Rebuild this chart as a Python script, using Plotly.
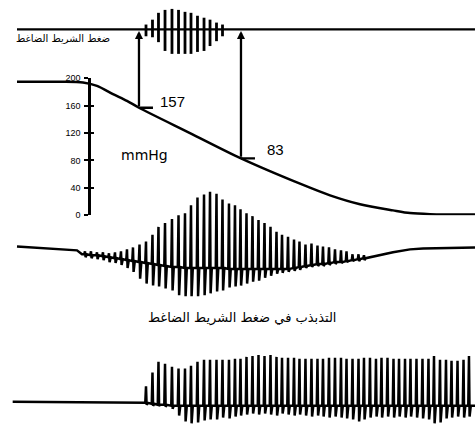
import plotly.graph_objects as go

# ---------------- data ----------------
# heart beats (s) shared by the three traces
beat_t = [11.33, 12.33, 13.33, 14.33, 15.33, 16.33, 17.33, 18.33, 19.33, 20.42,
          21.5, 22.58, 23.58, 24.67, 25.83, 26.92, 28.0, 29.0, 30.08, 31.17,
          32.17, 33.25, 34.25, 35.33, 36.33, 37.25, 38.25, 39.25, 40.25, 41.25,
          42.25, 43.25, 44.17, 45.17, 46.17, 47.08, 48.08, 49.08, 50.08, 51.0,
          52.0, 53.0, 54.0, 54.92, 55.92, 56.92, 57.83, 58.83, 59.83, 60.75,
          61.75, 62.75, 63.67, 64.67, 65.58, 66.58, 67.58, 68.58, 69.5, 70.5,
          71.5, 72.42, 73.42, 74.42, 75.33]

# cuff pressure (mmHg)
cuff_t = [0, 7.17, 11.0, 13.33, 16.0, 18.33, 20.33, 28.83, 37.33, 47.17, 52.17, 57.17, 62.67, 65.5, 68.83, 76.33]
cuff_p = [195, 195, 194, 189, 177, 167, 157, 120, 83, 46, 29, 16, 7, 3, 1.5, 1]
sys_t, sys_p = 20.33, 157
dia_t, dia_p = 37.33, 83
p_ticks = [0, 40, 80, 120, 160, 200]
record_t = [0.0, 76.33]

# top burst (beats 10..22)
burst_first = 10
burst_up = [0.5, 1.0, 1.7, 2.0, 2.1, 2.0, 1.8, 1.7, 1.4, 1.2, 1.0, 0.7, 0.5]
burst_down = [0.7, 0.8, 1.3, 2.2, 2.5, 2.5, 2.5, 2.5, 2.3, 2.2, 1.7, 1.2, 0.7]

# oscillation in cuff pressure (beats 0..46)
osc_base = [-0.5, -0.6, -0.6, -0.7, -0.8, -0.9, -1.0, -1.1, -1.2, -1.3,
            -1.4, -1.5, -1.6, -1.7, -1.8, -1.8, -1.9, -1.9, -1.9, -1.9,
            -1.9, -1.9, -1.9, -2.0, -2.0, -2.0, -2.0, -2.0, -2.0, -2.0,
            -2.0, -2.0, -2.0, -2.0, -1.9, -1.8, -1.7, -1.6, -1.5, -1.5,
            -1.4, -1.3, -1.3, -1.2, -1.1, -1.0, -0.9]
osc_top = [-0.2, -0.2, -0.3, -0.3, -0.4, -0.3, -0.2, 0.0, 0.2, 0.5,
           0.8, 1.5, 2.3, 2.7, 3.1, 3.5, 3.7, 4.5, 5.3, 5.6,
           5.9, 5.7, 5.1, 4.7, 4.5, 4.1, 3.7, 3.4, 3.0, 2.7,
           2.3, 1.8, 1.5, 1.3, 1.0, 0.8, 0.5, 0.6, 0.4, 0.3,
           0.2, 0.0, -0.1, -0.2, -0.5, -0.5, -0.6]
osc_bot = [-0.8, -0.9, -1.0, -1.1, -1.3, -1.4, -1.6, -1.9, -2.3, -3.0,
           -3.5, -3.7, -3.8, -4.0, -4.2, -4.7, -4.8, -4.8, -4.8, -4.7,
           -4.5, -4.3, -4.2, -3.9, -3.8, -3.7, -3.5, -3.3, -3.2, -2.9,
           -2.7, -2.5, -2.4, -2.3, -2.2, -2.1, -1.9, -1.8, -1.7, -1.7,
           -1.6, -1.5, -1.4, -1.3, -1.2, -1.2, -1.1]
osc_pre_t = [0.0, 5.5, 10.0, 10.83]
osc_pre_v = [0.3, 0.1, -0.1, -0.5]
osc_post_t = [58.83, 60.5, 62.67, 65.5, 67.67, 76.33]
osc_post_v = [-0.8, -0.55, -0.3, 0.0, 0.1, 0.2]

# distal pulse (beats 10..64)
pulse_first = 10
pulse_start_t = -0.72
pulse_top = [1.6, 3.0, 4.1, 3.9, 3.6, 3.4, 3.4, 3.7, 4.1, 4.3,
             4.3, 4.3, 4.3, 4.3, 4.4, 4.4, 4.6, 4.7, 4.8, 4.7,
             4.8, 4.6, 4.5, 4.5, 4.5, 4.4, 4.4, 4.4, 4.4, 4.4,
             4.5, 4.5, 4.5, 4.4, 4.4, 4.4, 4.5, 4.5, 4.4, 4.5,
             4.5, 4.4, 4.4, 4.4, 4.4, 4.4, 4.4, 4.4, 4.7, 4.3,
             4.3, 4.2, 4.2, 4.3, 4.7]
pulse_bot = [-0.3, -0.4, -0.4, -0.5, -0.7, -1.4, -2.0, -2.2, -2.1, -1.9,
             -1.8, -1.8, -1.6, -1.7, -1.5, -1.4, -1.3, -1.2, -1.3, -1.2,
             -1.3, -1.4, -1.2, -1.3, -1.4, -1.3, -1.4, -1.5, -1.4, -1.5,
             -1.6, -1.5, -1.6, -1.7, -1.8, -2.0, -1.8, -1.6, -1.5, -1.6,
             -1.5, -1.6, -1.5, -1.6, -1.5, -1.6, -1.7, -1.8, -2.2, -2.1,
             -1.7, -1.6, -1.5, -1.6, -1.5]
pulse_base = [-0.1, -0.2, -0.3, -0.3, -0.4, -0.4, -0.4, -0.4, -0.4, -0.4,
              -0.4, -0.4, -0.4, -0.4, -0.4, -0.4, -0.4, -0.4, -0.4, -0.4,
              -0.4, -0.4, -0.4, -0.4, -0.4, -0.4, -0.4, -0.4, -0.4, -0.4,
              -0.4, -0.4, -0.4, -0.4, -0.4, -0.4, -0.4, -0.4, -0.4, -0.4,
              -0.4, -0.4, -0.4, -0.4, -0.4, -0.4, -0.4, -0.4, -0.4, -0.4,
              -0.4, -0.4, -0.4, -0.4, -0.4]

top_label = "ضغط الشريط الضاغط"
mid_label = "التذبذب في ضغط الشريط الضاغط"
unit_label = "mmHg"

# ---------------- layout geometry ----------------
W, H = 475, 444
X0_PX, PX_PER_S = 17, 6.0
P_ZERO_PX, P_TOP_PX = 215, 75
AXIS_PX = 89


def span(zero_px, px_per_unit):
    return [(zero_px - H) / px_per_unit, zero_px / px_per_unit]


x_range = [-X0_PX / PX_PER_S, (W - X0_PX) / PX_PER_S]
p_dom = [1 - P_ZERO_PX / H, 1 - P_TOP_PX / H]
p_range = [0, 200]
r_osc = span(250, 10)
r_pulse = span(406, 10)
r_top = span(25, 10)


def p_to_top(p):
    frac = p_dom[0] + (p - p_range[0]) / (p_range[1] - p_range[0]) * (p_dom[1] - p_dom[0])
    return r_top[0] + frac * (r_top[1] - r_top[0])


def wave(times, base, top, bot):
    xs, ys = [], []
    for t, b, u, d in zip(times, base, top, bot):
        xs += [t - 0.12, t, t + 0.1, t + 0.3]
        ys += [b, u, d, b]
    return xs, ys


K = dict(color="black")
fig = go.Figure()

# top line and burst
fig.add_trace(go.Scatter(x=record_t, y=[0, 0], mode="lines", line=dict(width=2.3, **K),
                         xaxis="x", yaxis="y4", hoverinfo="skip"))
bx, by = [], []
for i, (u, d) in enumerate(zip(burst_up, burst_down)):
    t = beat_t[burst_first + i]
    bx += [t, t, None]
    by += [-d, u, None]
fig.add_trace(go.Scatter(x=bx, y=by, mode="lines", line=dict(width=2.8, **K),
                         xaxis="x", yaxis="y4", hoverinfo="skip"))

# cuff pressure curve
fig.add_trace(go.Scatter(x=cuff_t, y=cuff_p, mode="lines",
                         line=dict(width=2.5, shape="spline", smoothing=0.8, **K),
                         xaxis="x", yaxis="y", hoverinfo="skip"))
tick_len_s = 14 / PX_PER_S
fig.add_trace(go.Scatter(x=[sys_t, sys_t + tick_len_s, None, dia_t, dia_t + tick_len_s],
                         y=[sys_p, sys_p, None, dia_p, dia_p], mode="lines",
                         line=dict(width=2.3, **K), xaxis="x", yaxis="y", hoverinfo="skip"))
fig.add_trace(go.Scatter(x=[None], y=[None], xaxis="x", yaxis="y5", hoverinfo="skip"))

# oscillation trace
n = len(osc_top)
wx, wy = wave(beat_t[:n], osc_base, osc_top, osc_bot)
fig.add_trace(go.Scatter(x=osc_pre_t + wx + osc_post_t, y=osc_pre_v + wy + osc_post_v,
                         mode="lines", line=dict(width=2.5, **K),
                         xaxis="x", yaxis="y2", hoverinfo="skip"))

# pulse trace
m = len(pulse_top)
px_, py_ = wave(beat_t[pulse_first:pulse_first + m], pulse_base, pulse_top, pulse_bot)
fig.add_trace(go.Scatter(x=[pulse_start_t] + px_ + [record_t[1]],
                         y=[0] + py_ + [pulse_base[-1]],
                         mode="lines", line=dict(width=2.5, **K),
                         xaxis="x", yaxis="y3", hoverinfo="skip"))

ann = []
for t, p in [(sys_t, sys_p), (dia_t, dia_p)]:
    ann.append(dict(x=t, y=-0.15, xref="x", yref="y4", ax=t, ay=p_to_top(p), axref="x", ayref="y4",
                    showarrow=True, arrowhead=2, arrowsize=0.7, arrowwidth=2.3, arrowcolor="black",
                    text="", standoff=0, startstandoff=0))
num_font = dict(family="Liberation Sans Narrow, Liberation Sans, Arial", size=15, color="black")
ann.append(dict(x=sys_t, y=sys_p, xref="x", yref="y", text=str(sys_p), showarrow=False,
                xanchor="left", yanchor="middle", xshift=19, yshift=6, font=num_font))
ann.append(dict(x=dia_t, y=dia_p, xref="x", yref="y", text=str(dia_p), showarrow=False,
                xanchor="left", yanchor="middle", xshift=24, yshift=9, font=num_font))
ann.append(dict(x=21.3, y=88, xref="x", yref="y", text=unit_label, showarrow=False,
                xanchor="center", yanchor="middle",
                font=dict(family="DejaVu Sans", size=14, color="black")))
ann.append(dict(x=112 / W, y=1 - 34 / H, xref="paper", yref="paper", text=top_label, showarrow=False,
                xanchor="right", yanchor="middle",
                font=dict(family="DejaVu Sans", size=10, color="black")))
ann.append(dict(x=242 / W, y=1 - 320 / H, xref="paper", yref="paper", text=mid_label, showarrow=False,
                xanchor="center", yanchor="middle",
                font=dict(family="DejaVu Sans", size=13, color="black")))

hidden = dict(visible=False, showgrid=False, zeroline=False, fixedrange=True)
fig.update_layout(
    width=W, height=H, autosize=False, margin=dict(l=0, r=0, t=0, b=0, pad=0),
    paper_bgcolor="white", plot_bgcolor="rgba(0,0,0,0)", showlegend=False,
    xaxis=dict(domain=[0, 1], range=x_range, anchor="y2", **hidden),
    yaxis=dict(domain=p_dom, range=p_range, anchor="free", position=AXIS_PX / W, side="left",
               showline=True, linecolor="black", linewidth=2.5, ticks="outside", ticklen=4,
               tickwidth=2, tickcolor="black", tickvals=p_ticks, showgrid=False, zeroline=False,
               tickfont=dict(family="Liberation Sans, Arial", size=9, color="black"),
               ticklabelstandoff=2, fixedrange=True),
    yaxis5=dict(overlaying="y", range=p_range, anchor="free", position=AXIS_PX / W, side="left",
                showline=False, ticks="inside", ticklen=4, tickwidth=2, tickcolor="black",
                tickvals=p_ticks, showticklabels=False, showgrid=False, zeroline=False, fixedrange=True),
    yaxis2=dict(domain=[0, 1], range=r_osc, anchor="x", **hidden),
    yaxis3=dict(overlaying="y2", range=r_pulse, anchor="x", **hidden),
    yaxis4=dict(overlaying="y2", range=r_top, anchor="x", **hidden),
    annotations=ann,
)

fig.write_html("out.html", config={"displayModeBar": False},
               post_script="document.body.style.margin='0';document.body.style.padding='0';")
